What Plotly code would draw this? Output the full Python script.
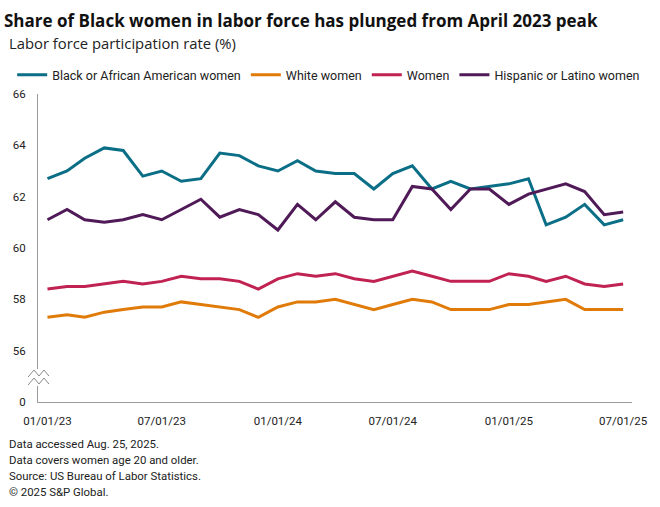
import plotly.graph_objects as go
import pandas as pd

months = pd.date_range("2023-01-01", "2025-07-01", freq="MS")

black = [62.7, 63.0, 63.5, 63.9, 63.8, 62.8, 63.0, 62.6, 62.7, 63.7, 63.6, 63.2, 63.0, 63.4, 63.0, 62.9,
         62.9, 62.3, 62.9, 63.2, 62.3, 62.6, 62.3, 62.4, 62.5, 62.7, 60.9, 61.2, 61.7, 60.9, 61.1]
white = [57.3, 57.4, 57.3, 57.5, 57.6, 57.7, 57.7, 57.9, 57.8, 57.7, 57.6, 57.3, 57.7, 57.9, 57.9, 58.0,
         57.8, 57.6, 57.8, 58.0, 57.9, 57.6, 57.6, 57.6, 57.8, 57.8, 57.9, 58.0, 57.6, 57.6, 57.6]
women = [58.4, 58.5, 58.5, 58.6, 58.7, 58.6, 58.7, 58.9, 58.8, 58.8, 58.7, 58.4, 58.8, 59.0, 58.9, 59.0,
         58.8, 58.7, 58.9, 59.1, 58.9, 58.7, 58.7, 58.7, 59.0, 58.9, 58.7, 58.9, 58.6, 58.5, 58.6]
hispanic = [61.1, 61.5, 61.1, 61.0, 61.1, 61.3, 61.1, 61.5, 61.9, 61.2, 61.5, 61.3, 60.7, 61.7, 61.1, 61.8,
            61.2, 61.1, 61.1, 62.4, 62.3, 61.5, 62.3, 62.3, 61.7, 62.1, 62.3, 62.5, 62.2, 61.3, 61.4]

series_names = ["Black or African American women", "White women", "Women", "Hispanic or Latino women"]
series_colors = ["#0a6f86", "#e07b0a", "#c02252", "#4f1a57"]

x_tick_vals = ["2023-01-01", "2023-07-01", "2024-01-01", "2024-07-01", "2025-01-01", "2025-07-01"]
x_tick_text = ["01/01/23", "07/01/23", "01/01/24", "07/01/24", "01/01/25", "07/01/25"]
y_tick_vals = [54, 56, 58, 60, 62, 64, 66]
y_tick_text = ["0", "56", "58", "60", "62", "64", "66"]

FONT = "Roboto"
W, H = 660, 507
ML, MR, MT, MB = 34, 28, 94, 105

fig = go.Figure()
for name, vals, col in zip(series_names, [black, white, women, hispanic], series_colors):
    fig.add_trace(go.Scatter(x=months, y=vals, mode="lines", name=name,
                             line=dict(color=col, width=3)))

def px2paper(px, py):
    return (px - ML) / (W - ML - MR), (H - MB - py) / (H - MT - MB)

# axis break symbol
shapes = []
x0, y0 = px2paper(24, 386)
x1, y1 = px2paper(46, 369)
shapes.append(dict(type="rect", xref="paper", yref="paper", x0=x0, x1=x1, y0=y0, y1=y1,
                   fillcolor="white", line=dict(width=0), layer="above"))
for off in (0, 8):
    pts = [(24, 377 + off), (30, 370 + off), (35, 376 + off), (40, 370 + off), (45, 376 + off)]
    path = ""
    for i, (a, b) in enumerate(pts):
        xa, yb = px2paper(a, b)
        path += ("M" if i == 0 else "L") + f"{xa},{yb} "
    shapes.append(dict(type="path", xref="paper", yref="paper", path=path,
                       line=dict(color="#8a8a8a", width=1), layer="above"))

notes = ["Data accessed Aug. 25, 2025.", "Data covers women age 20 and older.",
         "Source: US Bureau of Labor Statistics.", "© 2025 S&P Global."]
annotations = []
for i, t in enumerate(notes):
    annotations.append(dict(text=t, xref="paper", yref="paper", x=px2paper(3, 0)[0],
                            y=px2paper(0, 443.5 + 16 * i)[1], xanchor="left", yanchor="middle",
                            showarrow=False, font=dict(family=FONT, size=11.4, color="#222")))
annotations.append(dict(text="Labor force participation rate (%)", xref="paper", yref="paper",
                        x=px2paper(3, 0)[0], y=px2paper(0, 43)[1], xanchor="left", yanchor="middle",
                        showarrow=False, font=dict(family="Open Sans", size=14.8, color="#222")))

fig.update_layout(
    width=W, height=H,
    margin=dict(l=ML, r=MR, t=MT, b=MB),
    paper_bgcolor="white", plot_bgcolor="white",
    title=dict(text="<b>Share of Black women in labor force has plunged from April 2023 peak</b>",
               x=4 / W, xanchor="left", y=1 - 21 / H, yanchor="middle",
               font=dict(family="Open Sans", size=17, color="#111")),
    legend=dict(orientation="h", x=px2paper(8, 0)[0], xanchor="left", y=px2paper(0, 75)[1],
                yanchor="middle", font=dict(family=FONT, size=12.5, color="#222"),
                itemwidth=30, bgcolor="rgba(0,0,0,0)"),
    xaxis=dict(type="date", range=["2022-12-17", "2025-07-15"], tickvals=x_tick_vals,
               ticktext=x_tick_text, showgrid=False, zeroline=False, showline=True,
               linecolor="#9a9a9a", linewidth=1, ticks="", ticklabelstandoff=8,
               tickfont=dict(family=FONT, size=11.5, color="#222")),
    yaxis=dict(range=[54, 66], tickvals=y_tick_vals, ticktext=y_tick_text, showgrid=False,
               zeroline=False, showline=True, linecolor="#9a9a9a", linewidth=1, ticks="",
               ticklabelstandoff=9,
               tickfont=dict(family=FONT, size=11.5, color="#222")),
    shapes=shapes, annotations=annotations,
    font=dict(family=FONT),
)

fig.write_html("out.html", config={"displayModeBar": False},
               post_script="document.body.style.margin='0';document.body.style.overflow='hidden';")
